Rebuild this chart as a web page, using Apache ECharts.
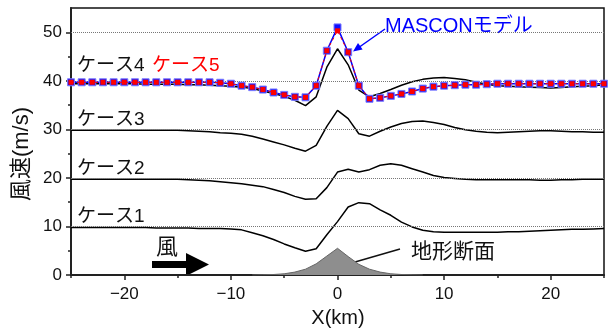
<!DOCTYPE html>
<html>
<head>
<meta charset="utf-8">
<script src="https://cdn.jsdelivr.net/npm/echarts@6/dist/echarts.min.js"></script>
<style>
  html, body { margin: 0; padding: 0; background: #fff; }
  #chart { width: 608px; height: 329px; }
</style>
</head>
<body>
<div id="chart"></div>
<script>
// Horizontal distance (km) of the sample points
const xKm = [-25,-24,-23,-22,-21,-20,-19,-18,-17,-16,-15,-14,-13,-12,-11,-10,-9,-8,-7,-6,-5,-4,-3,-2,-1,
             0,1,2,3,4,5,6,7,8,9,10,11,12,13,14,15,16,17,18,19,20,21,22,23,24,25];

// Wind speed (m/s) for each case
const case1 = [9.8,9.8,9.8,9.8,9.8,9.8,9.8,9.8,9.7,9.7,9.7,9.7,9.6,9.6,9.6,9.5,9.3,8.7,8.1,7.3,6.4,5.6,4.9,5.4,8.3,
               11.0,14.0,14.9,14.7,13.4,12.3,10.9,9.9,9.2,8.9,8.8,8.8,8.8,8.8,8.8,8.8,8.9,8.9,9.0,9.1,9.2,9.3,9.4,9.4,9.5,9.6];
const case2 = [19.7,19.7,19.7,19.7,19.7,19.7,19.7,19.7,19.7,19.7,19.7,19.6,19.5,19.4,19.2,19.0,18.8,18.5,18.2,17.6,17.0,16.2,15.6,15.7,18.0,
               21.2,21.8,21.2,21.7,22.6,22.9,22.6,21.9,21.2,20.5,20.1,19.9,19.7,19.6,19.6,19.6,19.6,19.6,19.6,19.5,19.5,19.6,19.6,19.7,19.7,19.7];
const case3 = [29.8,29.8,29.8,29.8,29.8,29.8,29.8,29.8,29.8,29.8,29.8,29.7,29.6,29.5,29.3,29.2,29.0,28.6,28.0,27.4,26.8,26.1,25.5,26.7,30.6,
               33.9,32.2,29.1,28.6,29.6,30.5,31.2,31.6,31.7,31.4,31.0,30.4,29.9,29.6,29.4,29.3,29.4,29.5,29.6,29.7,29.7,29.6,29.5,29.5,29.4,29.4];
const case4 = [39.4,39.4,39.4,39.4,39.4,39.4,39.4,39.3,39.3,39.3,39.3,39.2,39.2,39.1,39.0,38.9,38.7,38.4,37.9,37.4,36.8,36.0,34.9,36.7,42.8,
               46.6,43.3,38.1,36.7,37.4,38.2,39.1,39.8,40.3,40.6,40.7,40.5,40.2,39.7,39.3,39.0,38.9,38.8,38.7,38.6,38.5,38.6,38.8,38.9,39.0,39.2];
const case5 = [39.7,39.7,39.7,39.7,39.7,39.7,39.7,39.7,39.7,39.7,39.7,39.7,39.7,39.7,39.6,39.4,39.0,38.7,38.2,37.6,37.1,36.7,36.6,39.0,46.2,
               50.3,45.9,39.0,36.3,36.5,36.9,37.3,37.8,38.4,38.8,39.0,39.1,39.2,39.2,39.3,39.4,39.4,39.4,39.4,39.4,39.4,39.4,39.4,39.4,39.4,39.4];
const mascon = [39.7,39.7,39.7,39.7,39.7,39.7,39.7,39.7,39.7,39.7,39.7,39.7,39.7,39.7,39.6,39.4,39.0,38.7,38.2,37.6,37.1,36.7,36.6,39.0,46.2,
                51.0,45.9,39.0,36.3,36.5,36.9,37.3,37.8,38.4,38.8,39.0,39.1,39.2,39.2,39.3,39.4,39.4,39.4,39.4,39.4,39.4,39.4,39.4,39.4,39.4,39.4];

// Terrain cross-section (height shown on the same scale)
const terrainX = [-8,-7,-6,-5,-4,-3,-2,-1,0,1,2,3,4,5,6,7,8];
const terrainH = [0,0.03,0.1,0.25,0.6,1.2,2.3,3.9,5.5,3.8,2.2,1.2,0.6,0.25,0.1,0.03,0];

// Axis tick labels
const xLabelVals = [-20,-10,0,10,20];
const xMinorVals = [-25,-15,-5,5,15,25];
const yLabelVals = [0,10,20,30,40,50];
const yMinorVals = [5,15,25,35,45];
const gridLevels = [10,20,30,40,50];

const FONT = "'Liberation Sans', Arial, 'Noto Sans CJK JP', sans-serif";
const pairs = (xs, ys) => xs.map((x, i) => [x, ys[i]]);

const chart = echarts.init(document.getElementById('chart'), null, { renderer: 'canvas' });

const blackLine = (name, vals) => ({
  name, type: 'line', data: pairs(xKm, vals), showSymbol: false, symbol: 'none',
  lineStyle: { color: '#000', width: 1.5 }, z: 4, silent: true
});

const option = {
  animation: false,
  backgroundColor: '#fff',
  grid: { left: 71, right: 4, top: 8, bottom: 54, show: true, borderColor: '#111', borderWidth: 1.5, backgroundColor: 'transparent' },
  xAxis: [
    {
      type: 'value', min: -25, max: 25, interval: 5,
      axisLine: { show: true, onZero: false, lineStyle: { color: '#222', width: 2 } },
      axisTick: { show: true, length: 5, customValues: xLabelVals, lineStyle: { color: '#222', width: 1.5 } },
      axisLabel: {
        customValues: xLabelVals, margin: 11, color: '#111', fontSize: 17, fontFamily: FONT,
        formatter: v => String(v).replace('-', '\u2212')
      },
      splitLine: { show: false }
    },
    {
      type: 'value', min: -25, max: 25, interval: 5, position: 'bottom',
      axisLine: { show: false, onZero: false },
      axisTick: { show: true, length: 3, customValues: xMinorVals, lineStyle: { color: '#222', width: 1.5 } },
      axisLabel: { show: false },
      splitLine: { show: false }
    }
  ],
  yAxis: [
    {
      type: 'value', min: 0, max: 55, interval: 5,
      axisLine: { show: true, onZero: false, lineStyle: { color: '#222', width: 2 } },
      axisTick: { show: true, length: 5, customValues: yLabelVals, lineStyle: { color: '#222', width: 1.5 } },
      axisLabel: { customValues: yLabelVals, margin: 9, color: '#111', fontSize: 17, fontFamily: FONT },
      splitLine: { show: false }
    },
    {
      type: 'value', min: 0, max: 55, interval: 5, position: 'left',
      axisLine: { show: false, onZero: false },
      axisTick: { show: true, length: 3, customValues: yMinorVals, lineStyle: { color: '#222', width: 1.5 } },
      axisLabel: { show: false },
      splitLine: { show: false }
    }
  ],
  series: [
    {
      name: '地形断面', type: 'line', data: pairs(terrainX, terrainH), symbol: 'none',
      lineStyle: { color: '#666', width: 1 }, areaStyle: { color: '#8e8e8e', opacity: 1 }, z: 2, silent: true,
      markLine: {
        silent: true, symbol: 'none', label: { show: false },
        lineStyle: { color: '#777', type: 'dotted', width: 1 },
        data: gridLevels.map(v => ({ yAxis: v }))
      }
    },
    blackLine('ケース1', case1),
    blackLine('ケース2', case2),
    blackLine('ケース3', case3),
    blackLine('ケース4', case4),
    {
      name: 'MASCONモデル', type: 'line', data: pairs(xKm, mascon), symbol: 'rect', symbolSize: 7,
      lineStyle: { color: '#0000ff', width: 1.5 },
      itemStyle: { color: '#1010ff', borderColor: '#7a7aff', borderWidth: 1 }, z: 5, silent: true
    },
    {
      name: 'ケース5', type: 'line', data: pairs(xKm, case5), symbol: 'rect', symbolSize: 5,
      lineStyle: { color: '#ff0000', width: 1, type: [3, 3] },
      itemStyle: { color: '#ff0000' }, z: 6, silent: true
    }
  ],
  graphic: [
    // axis titles
    { type: 'text', x: 22, y: 154, rotation: Math.PI / 2, style: { text: '風速(m/s)', font: `22px ${FONT}`, fill: '#111', align: 'center', verticalAlign: 'middle' } },
    { type: 'text', x: 338, y: 318, style: { text: 'X(km)', font: `20px ${FONT}`, fill: '#111', align: 'center', verticalAlign: 'middle' } },
    // case labels
    { type: 'text', x: 77, y: 66, style: { text: 'ケース4', font: `19px ${FONT}`, fill: '#111', verticalAlign: 'middle' } },
    { type: 'text', x: 152, y: 66, style: { text: 'ケース5', font: `19px ${FONT}`, fill: '#ff0000', verticalAlign: 'middle' } },
    { type: 'text', x: 77, y: 120, style: { text: 'ケース3', font: `19px ${FONT}`, fill: '#111', verticalAlign: 'middle' } },
    { type: 'text', x: 77, y: 169, style: { text: 'ケース2', font: `19px ${FONT}`, fill: '#111', verticalAlign: 'middle' } },
    { type: 'text', x: 77, y: 217, style: { text: 'ケース1', font: `19px ${FONT}`, fill: '#111', verticalAlign: 'middle' } },
    // MASCON model label and its pointer
    { type: 'text', x: 385, y: 26, style: { text: 'MASCONモデル', font: `20px ${FONT}`, fill: '#0000ff', verticalAlign: 'middle' } },
    { type: 'line', shape: { x1: 385, y1: 29, x2: 358, y2: 48 }, style: { stroke: '#0000ff', lineWidth: 1.5 } },
    { type: 'polygon', shape: { points: [[353, 51.5], [362.6, 49.6], [358, 43]] }, style: { fill: '#0000ff' } },
    // wind direction
    { type: 'text', x: 167, y: 248, style: { text: '風', font: `22px ${FONT}`, fill: '#111', align: 'center', verticalAlign: 'middle' } },
    { type: 'polygon', shape: { points: [[152, 261], [186, 261], [186, 253], [209, 264.5], [186, 276], [186, 268], [152, 268]] }, style: { fill: '#000' } },
    // terrain label
    { type: 'line', shape: { x1: 355, y1: 262, x2: 400, y2: 249 }, style: { stroke: '#111', lineWidth: 1.5 } },
    { type: 'text', x: 411, y: 252, style: { text: '地形断面', font: `21px ${FONT}`, fill: '#111', verticalAlign: 'middle' } }
  ]
};

chart.setOption(option);
</script>
</body>
</html>
